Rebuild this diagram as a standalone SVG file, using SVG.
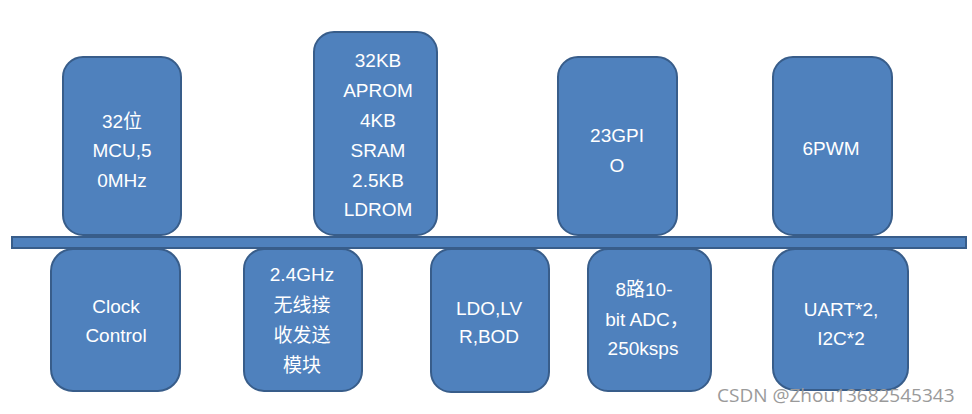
<svg xmlns="http://www.w3.org/2000/svg" width="972" height="414" viewBox="0 0 972 414">
<style>
.box{fill:#4f81bd;stroke:#385d8a;stroke-width:2}
.t{fill:#ffffff;font-family:"Liberation Sans","Noto Sans CJK SC",sans-serif;font-size:19px;text-anchor:middle}
.wm{fill:#9a9a9a;font-family:"Open Sans","Liberation Sans",sans-serif;font-size:19px}
</style>
<rect width="972" height="414" fill="#ffffff"/>
<g id="n-mcu"><rect class="box" x="63" y="57" width="118" height="178" rx="20"/>
<text class="t" x="122" y="128">32位</text><text class="t" x="122" y="157">MCU,5</text><text class="t" x="122" y="187">0MHz</text></g>
<g id="n-mem"><rect class="box" x="314" y="32" width="123" height="203" rx="20"/>
<text class="t" x="378" y="67">32KB</text><text class="t" x="378" y="97">APROM</text><text class="t" x="378" y="127">4KB</text><text class="t" x="378" y="157">SRAM</text><text class="t" x="378" y="187">2.5KB</text><text class="t" x="378" y="216">LDROM</text></g>
<g id="n-gpio"><rect class="box" x="558" y="57" width="119" height="178" rx="20"/>
<text class="t" x="617" y="142">23GPI</text><text class="t" x="617" y="172">O</text></g>
<g id="n-pwm"><rect class="box" x="773" y="57" width="119" height="178" rx="20"/>
<text class="t" x="831" y="155">6PWM</text></g>
<g id="n-clock"><rect class="box" x="51" y="249" width="129" height="142" rx="22"/>
<text class="t" x="116" y="313">Clock</text><text class="t" x="116" y="342">Control</text></g>
<g id="n-rf"><rect class="box" x="244" y="249" width="118" height="142" rx="20"/>
<text class="t" x="302" y="281">2.4GHz</text><text class="t" x="302" y="312">无线接</text><text class="t" x="302" y="342">收发送</text><text class="t" x="302" y="372">模块</text></g>
<g id="n-ldo"><rect class="box" x="431" y="249" width="118" height="143" rx="20"/>
<text class="t" x="489" y="315">LDO,LV</text><text class="t" x="489" y="343">R,BOD</text></g>
<g id="n-adc"><rect class="box" x="588" y="249" width="123" height="142" rx="20"/>
<text class="t" x="644" y="296">8路10-</text><text class="t" x="647" y="326">bit ADC，</text><text class="t" x="643" y="355">250ksps</text></g>
<g id="n-uart"><rect class="box" x="773" y="249" width="135" height="141" rx="22"/>
<text class="t" x="841" y="316">UART*2,</text><text class="t" x="841" y="345">I2C*2</text></g>
<g id="connectors"><rect class="box" x="12" y="237" width="954" height="11"/></g>
<text class="wm" x="717" y="402">CSDN @Zhou13682545343</text>
</svg>
